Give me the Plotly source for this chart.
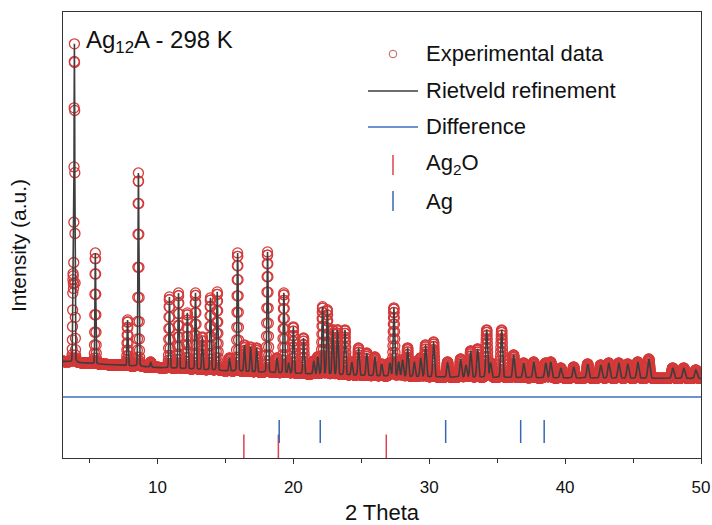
import numpy as np
import plotly.graph_objects as go

# ---------------- data ----------------
# reflection positions (2 theta, deg) and observed peak-top intensities (a.u.)
peak_pos = [3.79, 3.89, 5.43, 7.80, 8.60, 9.50, 10.88, 11.55, 12.20, 12.80,
            13.30, 13.90, 14.40, 15.30, 15.90, 16.40, 16.85, 17.30, 18.10, 18.80,
            19.30, 19.65, 20.00, 20.75, 21.50, 21.80, 22.15, 22.50, 22.90, 23.25,
            23.80, 24.30, 24.80, 25.40, 26.00, 26.50, 27.10, 27.40, 27.75, 28.04,
            28.41, 28.90, 29.37, 29.73, 30.32, 31.35, 32.31, 32.70, 33.05, 33.56,
            34.23, 34.52, 35.33, 36.21, 36.95, 37.69, 38.57, 38.94, 39.68, 40.63,
            41.66, 42.62, 43.21, 43.95, 44.61, 45.35, 46.16, 47.92, 48.73, 49.62]
peak_top = [1800, 4130, 2050, 1380, 2850, 960, 1610, 1650, 1450, 1650,
            1210, 1600, 1660, 1000, 2050, 1130, 1110, 1100, 2060, 1000,
            1650, 950, 1310, 1200, 970, 1010, 1510, 1480, 1280, 1280,
            1280, 960, 1100, 1050, 1010, 940, 950, 1500, 960, 980,
            1100, 960, 1000, 1130, 1160, 960, 990, 930, 1070, 1090,
            1280, 950, 1280, 1030, 950, 960, 950, 960, 900, 910,
            940, 930, 950, 950, 940, 960, 990, 900, 900, 880]
assert len(peak_pos) == len(peak_top)

# background knots (2 theta, intensity)
bg_x = [3.05, 5, 10, 15, 20, 25, 30, 40, 50]
bg_y = [965, 945, 905, 872, 845, 825, 810, 800, 795]

# Bragg reflection markers
ag2o_pos = [16.36, 18.90, 26.84]
ag_pos = [18.96, 21.98, 31.21, 36.73, 38.46]

DIFF_OFFSET = 610          # level of the difference curve
two_theta_start, two_theta_end, step = 3.05, 50.0, 0.01

# ---------------- build profile ----------------
x = np.arange(two_theta_start, two_theta_end + 1e-9, step)
bg = np.interp(x, bg_x, bg_y)


def pseudo_voigt(xx, x0, fwhm, eta=0.1):
    d = (xx - x0) / fwhm
    g = np.exp(-4 * np.log(2) * d ** 2)
    lo = 1.0 / (1.0 + 4 * d ** 2)
    return eta * lo + (1 - eta) * g


calc = bg.copy()
for p, t in zip(peak_pos, peak_top):
    amp = t - np.interp(p, bg_x, bg_y)
    fwhm = 0.06 + 0.0025 * p
    calc += amp * pseudo_voigt(x, p, fwhm)
obs = calc.copy()
diff = obs - calc + DIFF_OFFSET


def tick_lines(pos, y0, y1):
    xs, ys = [], []
    for p in pos:
        xs += [p, p, None]
        ys += [y0, y1, None]
    return xs, ys


# ---------------- figure ----------------
RED_C = "rgb(212,58,58)"
CALC_C = "#3d3d3d"
DIFF_C = "#3b6fc0"
AG2O_C = "#d8434f"
AG_C = "#3569b3"
FONT = "Liberation Sans, Arial, sans-serif"

fig = go.Figure()
fig.add_trace(go.Scatter(x=x, y=obs, mode="markers", name="Experimental data",
                         marker=dict(symbol="circle-open", size=10, color=RED_C,
                                     line=dict(width=1.3, color=RED_C))))
fig.add_trace(go.Scatter(x=x, y=calc, mode="lines", name="Rietveld refinement",
                         line=dict(color=CALC_C, width=1.6)))
fig.add_trace(go.Scatter(x=x, y=diff, mode="lines", name="Difference",
                         line=dict(color=DIFF_C, width=1.5)))
tx, ty = tick_lines(ag2o_pos, 0, 235)
fig.add_trace(go.Scatter(x=tx, y=ty, mode="lines", name="Ag2O",
                         line=dict(color=AG2O_C, width=1.5)))
tx, ty = tick_lines(ag_pos, 150, 380)
fig.add_trace(go.Scatter(x=tx, y=ty, mode="lines", name="Ag",
                         line=dict(color=AG_C, width=1.5)))

PL, PR, PT, PB = 63, 701, 12, 458
W, H = 712, 525


def px(v):
    return (v - PL) / (PR - PL)


def py(v):
    return (PB - v) / (PB - PT)


shapes = [
    dict(type="circle", xref="paper", yref="paper",
         x0=px(393 - 3.8), x1=px(393 + 3.8), y0=py(54 + 3.8), y1=py(54 - 3.8),
         line=dict(color="rgb(190,95,95)", width=1)),
    dict(type="line", xref="paper", yref="paper", x0=px(368), x1=px(418),
         y0=py(91), y1=py(91), line=dict(color=CALC_C, width=1.6)),
    dict(type="line", xref="paper", yref="paper", x0=px(368), x1=px(418),
         y0=py(127), y1=py(127), line=dict(color=DIFF_C, width=1.6)),
    dict(type="line", xref="paper", yref="paper", x0=px(393), x1=px(393),
         y0=py(155), y1=py(175), line=dict(color=AG2O_C, width=1.5)),
    dict(type="line", xref="paper", yref="paper", x0=px(393), x1=px(393),
         y0=py(191), y1=py(211), line=dict(color=AG_C, width=1.5)),
]

legend_labels = ["Experimental data", "Rietveld refinement", "Difference",
                 "Ag<sub>2</sub>O", "Ag"]
legend_rows = [53, 91, 127, 164, 201]
annotations = []
for lab, r in zip(legend_labels, legend_rows):
    annotations.append(dict(text=lab, xref="paper", yref="paper", x=px(424), y=py(r),
                            xanchor="left", yanchor="middle", showarrow=False,
                            font=dict(size=22, color="#111", family=FONT)))
annotations.append(dict(text="Ag<sub>12</sub>A - 298 K", xref="paper", yref="paper",
                        x=px(84), y=py(42), xanchor="left", yanchor="middle",
                        showarrow=False, font=dict(size=24, color="#111", family=FONT)))
annotations.append(dict(text="Intensity (a.u.)", xref="paper", yref="paper",
                        x=px(19), y=py(246), xanchor="center", yanchor="middle",
                        textangle=-90, showarrow=False,
                        font=dict(size=21, color="#111", family=FONT)))

fig.update_layout(
    width=W, height=H,
    margin=dict(l=PL, r=W - PR, t=PT, b=H - PB),
    plot_bgcolor="white", paper_bgcolor="white",
    showlegend=False,
    font=dict(family=FONT, color="#111"),
    shapes=shapes, annotations=annotations,
)
fig.update_xaxes(range=[two_theta_start, two_theta_end], showline=True, mirror=True,
                 automargin=False,
                 linecolor="#333", linewidth=1.2, showgrid=False, zeroline=False,
                 ticks="outside", ticklen=5, tickwidth=1.2, tickcolor="#333",
                 tick0=0, dtick=10, ticklabelstandoff=8,
                 tickfont=dict(size=17, family=FONT, color="#111"),
                 minor=dict(ticks="outside", dtick=5, ticklen=4, tickwidth=1.2, tickcolor="#333"),
                 title=dict(text="2 Theta", font=dict(size=22, family=FONT, color="#111"),
                            standoff=12))
fig.update_yaxes(range=[0, 4460], showline=True, mirror=True, linecolor="#333",
                 automargin=False,
                 linewidth=1.2, showgrid=False, zeroline=False, showticklabels=False,
                 ticks="")

fig.write_html("out.html")
